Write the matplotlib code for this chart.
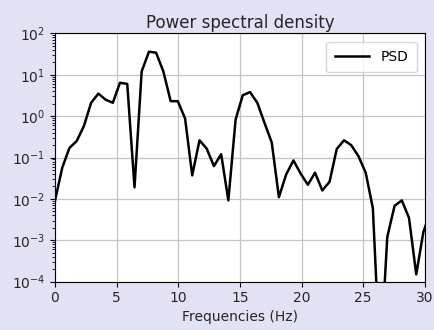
import numpy as np
import matplotlib.pyplot as plt

# Welch PSD bins (Hz) and estimated power
freqs = [0.00, 0.59, 1.17, 1.76, 2.34, 2.93, 3.52, 4.10, 4.69, 5.27,
         5.86, 6.45, 7.03, 7.62, 8.20, 8.79, 9.38, 9.96, 10.55, 11.13,
         11.72, 12.30, 12.89, 13.48, 14.06, 14.65, 15.23, 15.82, 16.41, 16.99,
         17.58, 18.16, 18.75, 19.34, 19.92, 20.51, 21.09, 21.68, 22.27, 22.85,
         23.44, 24.02, 24.61, 25.20, 25.78, 26.37, 26.95, 27.54, 28.13, 28.71,
         29.30, 29.88, 30.47]
psd = [0.009, 0.057, 0.17, 0.25, 0.57, 2.1, 3.5, 2.5, 2.1, 6.4,
       6.0, 0.019, 12.0, 36.0, 34.0, 12.0, 2.3, 2.3, 0.88, 0.037,
       0.26, 0.165, 0.062, 0.12, 0.0092, 0.83, 3.2, 3.8, 2.1, 0.69,
       0.23, 0.011, 0.039, 0.085, 0.041, 0.022, 0.043, 0.016, 0.026, 0.16,
       0.26, 0.2, 0.108, 0.043, 0.006, 1e-6, 0.0012, 0.0068, 0.0092, 0.0035,
       0.00015, 0.0016, 0.005]

bg = "#e2e2f4"
txt = "#262626"

fig = plt.figure(figsize=(4.34, 3.30), dpi=100, facecolor=bg)
ax = fig.add_axes([0.1267, 0.1464, 0.8523, 0.7526])

ax.semilogy(freqs, psd, color="black", lw=1.8, label="PSD")
ax.set_xlim(0, 30)
ax.set_ylim(1e-4, 1e2)
ax.grid(True, which="major", color="#c4c4c4", lw=0.9)

ax.set_title("Power spectral density", fontsize=12, color=txt, pad=4)
ax.set_xlabel("Frequencies (Hz)", fontsize=10, color=txt, labelpad=3)
ax.tick_params(labelsize=10, colors=txt)
ax.tick_params(which="both", color="black")
ax.tick_params(which="minor", length=2.5)

ax.legend(loc="upper right", fontsize=10, handlelength=2.5,
          borderpad=0.6, borderaxespad=0.6)

plt.savefig("out.png", dpi=100, facecolor=bg)
